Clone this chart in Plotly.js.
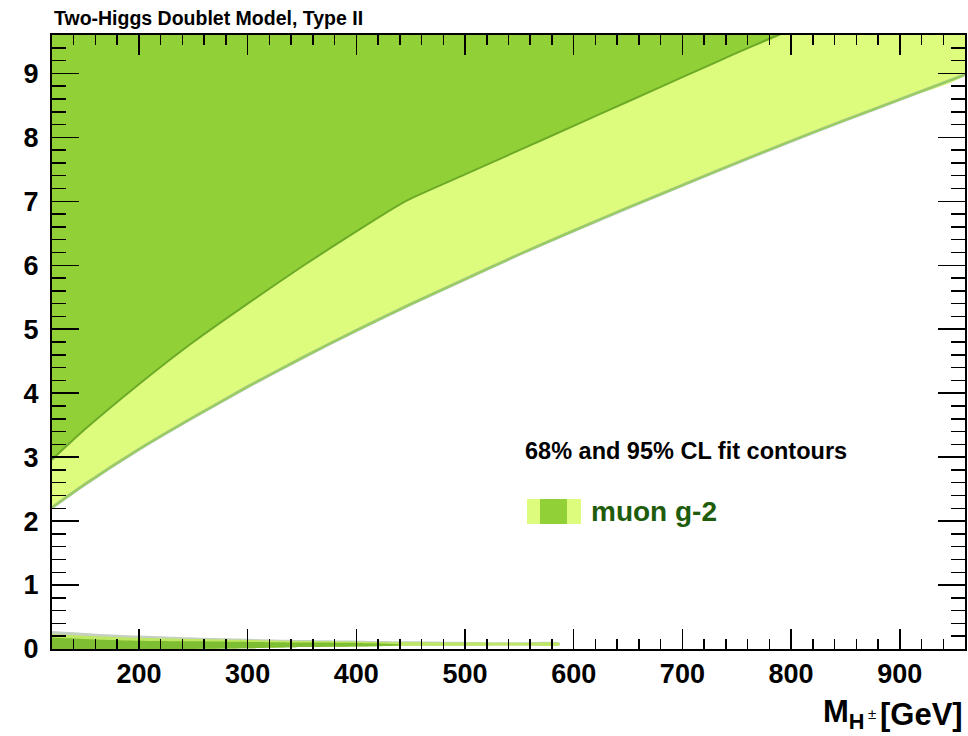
<!DOCTYPE html>
<html>
<head>
<meta charset="utf-8">
<script src="https://cdn.plot.ly/plotly-3.0.1.min.js"></script>
<style>
  html, body { margin: 0; padding: 0; background: #ffffff; }
  #chart { width: 968px; height: 736px; }
</style>
</head>
<body>
<div id="chart"></div>
<script>
// Charged Higgs mass grid [GeV] and the 95% CL lower edge of tan(beta)
const massGrid95 = [120, 150, 200, 250, 300, 350, 400, 450, 500, 550, 600, 650, 700, 750, 800, 850, 900, 960];
const tanbLower95 = [2.21, 2.57, 3.12, 3.62, 4.10, 4.55, 4.98, 5.39, 5.78, 6.17, 6.54, 6.90, 7.25, 7.60, 7.94, 8.27, 8.59, 8.98];

// 68% CL lower edge of tan(beta)
const massGrid68 = [120, 150, 200, 250, 300, 350, 400, 445, 500, 550, 600, 650, 700, 750, 800];
const tanbLower68 = [2.96, 3.43, 4.14, 4.80, 5.40, 5.98, 6.53, 7.00, 7.42, 7.80, 8.18, 8.56, 8.94, 9.32, 9.69];

// Thin low-tan(beta) solution
const lowMass = [120, 160, 200, 250, 300, 350, 400, 450, 500, 550, 587];
const lowFloor = [0, 0, 0, 0, 0.01, 0.03, 0.04, 0.05, 0.05, 0.055, 0.06];
const lowFringe = [0.28, 0.24, 0.21, 0.18, 0.16, 0.14, 0.13, 0.12, 0.11, 0.105, 0.10];
const low95Top = [0.23, 0.20, 0.175, 0.155, 0.14, 0.125, 0.115, 0.105, 0.10, 0.095, 0.09];
const low68Mass = [120, 160, 200, 250, 300, 350, 400, 440];
const low68Floor = [0, 0, 0, 0, 0.01, 0.03, 0.04, 0.06];
const low68Top = [0.18, 0.15, 0.13, 0.12, 0.11, 0.10, 0.095, 0.07];

// Axis settings
const xRange = [120, 960];
const yRange = [0, 9.6];
const xTickLabels = [200, 300, 400, 500, 600, 700, 800, 900];
const yTickLabels = [0, 1, 2, 3, 4, 5, 6, 7, 8, 9];

const colLight = 'rgb(221,252,125)';
const colDark = 'rgb(145,209,55)';
const ceiling = 10; // above the visible range; fills are clipped to the frame
const smooth = {shape: 'spline', smoothing: 0.6};

function band(xs, lo, hi, color) {
  return {
    x: xs.concat(xs.slice().reverse()),
    y: lo.concat(hi.slice().reverse()),
    mode: 'lines', fill: 'toself', fillcolor: color,
    line: Object.assign({width: 0}, smooth), hoverinfo: 'skip', showlegend: false
  };
}

function topRegion(xs, ys, color) {
  const last = xs[xs.length - 1];
  return {
    x: xs.concat([last, xs[0]]),
    y: ys.concat([ceiling, ceiling]),
    mode: 'lines', fill: 'toself', fillcolor: color,
    line: {width: 0, shape: 'spline', smoothing: 0.5}, hoverinfo: 'skip', showlegend: false
  };
}

function edge(xs, ys, color, width) {
  return {x: xs, y: ys, mode: 'lines', line: Object.assign({color: color, width: width}, smooth),
          hoverinfo: 'skip', showlegend: false};
}

const traces = [
  topRegion(massGrid95, tanbLower95, colLight),
  topRegion(massGrid68, tanbLower68, colDark),
  edge(massGrid95, tanbLower95, 'rgba(150,165,150,0.6)', 3.2),
  edge(massGrid95, tanbLower95, 'rgb(150,205,95)', 2),
  edge(massGrid68, tanbLower68, 'rgb(108,170,40)', 2),
  band(lowMass, lowFloor, lowFringe, 'rgba(150,170,140,0.55)'),
  band(lowMass, lowFloor, low95Top, 'rgb(190,232,100)'),
  band(low68Mass, low68Floor, low68Top, 'rgb(125,190,50)')
];

const fontFamily = 'Liberation Sans, Arial, sans-serif';
const tickFont = {family: fontFamily, size: 27, color: '#000'};
const axisCommon = {
  showgrid: false, zeroline: false,
  showline: true, linecolor: '#000', linewidth: 2, mirror: 'allticks',
  ticks: 'inside', tickcolor: '#000', tickwidth: 1.5,
  tickfont: tickFont
};

// Pixel placement helpers for the annotations (plot frame: x 52..965, y 35..649)
const px = v => (v - 52) / 913;
const py = v => (649 - v) / 614;

const layout = {
  width: 968, height: 736,
  margin: {l: 52, r: 3, t: 35, b: 87},
  paper_bgcolor: '#fff', plot_bgcolor: '#fff',
  font: {family: fontFamily, color: '#000'},
  xaxis: Object.assign({}, axisCommon, {
    range: xRange, tickmode: 'array', tickvals: xTickLabels,
    ticktext: xTickLabels.map(v => '<b>' + v + '</b>'),
    ticklen: 20, ticklabelstandoff: 0,
    minor: {dtick: 20, tick0: 0, ticks: 'inside', ticklen: 10, tickcolor: '#000', tickwidth: 1.5}
  }),
  yaxis: Object.assign({}, axisCommon, {
    range: yRange, tickmode: 'array', tickvals: yTickLabels,
    ticktext: yTickLabels.map(v => '<b>' + v + '</b>'),
    ticklen: 27, ticklabelstandoff: 6,
    minor: {dtick: 0.2, tick0: 0, ticks: 'inside', ticklen: 14, tickcolor: '#000', tickwidth: 1.5}
  }),
  shapes: [
    {type: 'rect', xref: 'paper', yref: 'paper', x0: px(527), x1: px(581), y0: py(524), y1: py(499), fillcolor: colLight, line: {width: 0}},
    {type: 'rect', xref: 'paper', yref: 'paper', x0: px(540), x1: px(567), y0: py(524), y1: py(499), fillcolor: colDark, line: {width: 0}}
  ],
  annotations: [
    {xref: 'paper', yref: 'paper', x: 0, y: py(18), xanchor: 'left', yanchor: 'middle', showarrow: false,
     text: '<b>Two-Higgs Doublet Model, Type II</b>', font: {size: 19.5, color: '#000'}},
    {xref: 'paper', yref: 'paper', x: px(523), y: py(451), xanchor: 'left', yanchor: 'middle', showarrow: false,
     text: '<b>68% and 95% CL fit contours</b>', font: {size: 23.5, color: '#000'}},
    {xref: 'paper', yref: 'paper', x: px(589), y: py(511), xanchor: 'left', yanchor: 'middle', showarrow: false,
     text: '<b>muon g-2</b>', font: {size: 28, color: 'rgb(30,92,12)'}},
    {xref: 'paper', yref: 'paper', x: 1.0, y: py(714), xanchor: 'right', yanchor: 'middle', showarrow: false,
     text: '<b>[GeV]</b>', font: {size: 31, color: '#000'}},
    {xref: 'paper', yref: 'paper', x: px(867), y: py(714), xanchor: 'right', yanchor: 'middle', showarrow: false,
     text: '<b>M<sub>H</sub></b>', font: {size: 31, color: '#000'}},
    {xref: 'paper', yref: 'paper', x: px(872), y: py(713), xanchor: 'center', yanchor: 'middle', showarrow: false,
     text: '\u00b1', font: {size: 15, color: '#000'}}
  ]
};

Plotly.newPlot('chart', traces, layout, {displayModeBar: false, staticPlot: true});
</script>
</body>
</html>
